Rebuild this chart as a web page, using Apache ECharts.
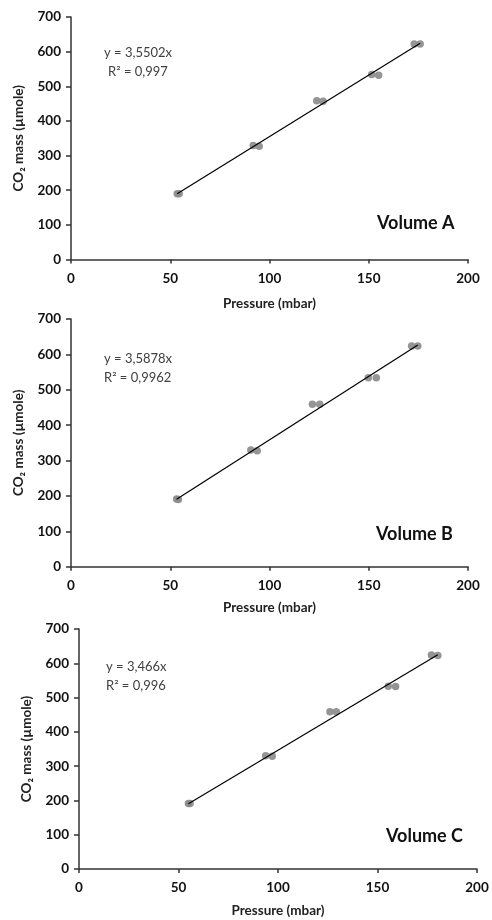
<!DOCTYPE html>
<html>
<head>
<meta charset="utf-8">
<script src="https://cdn.jsdelivr.net/npm/echarts@6/dist/echarts.min.js"></script>
<style>
html,body{margin:0;padding:0;background:#fff;}
#chart{width:492px;height:920px;}
</style>
</head>
<body>
<div id="chart"></div>
<script>
// Panel A (Volume A)
const pressureA = [53.5, 54.5, 91.8, 94.8, 123.8, 127.0, 151.5, 155.0, 172.9, 175.9];
const massA     = [190, 190, 329, 327, 458, 457, 534, 532, 622, 622];
const slopeA = 3.5502;
const eqA = ['y = 3,5502x', 'R² = 0,997'];

// Panel B (Volume B)
const pressureB = [53.2, 54.1, 90.6, 93.8, 121.6, 125.3, 149.8, 153.8, 171.6, 174.7];
const massB     = [191, 190, 330, 328, 459, 459, 534, 534, 624, 624];
const slopeB = 3.5878;
const eqB = ['y = 3,5878x', 'R² = 0,9962'];

// Panel C (Volume C)
const pressureC = [55.0, 55.8, 93.8, 97.1, 126.1, 129.3, 155.4, 159.1, 177.1, 180.3];
const massC     = [191, 191, 330, 329, 459, 459, 533, 532, 624, 623];
const slopeC = 3.466;
const eqC = ['y = 3,466x', 'R² = 0,996'];

const panelLabels = ['Volume A', 'Volume B', 'Volume C'];
const xTicks = [0, 50, 100, 150, 200];
const yTicks = [0, 100, 200, 300, 400, 500, 600, 700];
const xName = 'Pressure (mbar)';
const yName = 'CO₂ mass (µmole)';

const FONT = 'Lato, "Open Sans", sans-serif';
const AXIS_COLOR = '#333';
const DOT_COLOR = '#8a8a8a';

const panels = [
  {p: pressureA, m: massA, s: slopeA, eq: eqA, grid: {left: 71, right: 24, top: 17, height: 242.5}, xGap: 37, yGap: 45, eqPos: [138, 53], eqAlign: 'center', lbl: [377, 223]},
  {p: pressureB, m: massB, s: slopeB, eq: eqB, grid: {left: 71, right: 24, top: 319, height: 247.7}, xGap: 34, yGap: 45, eqPos: [104, 359], eqAlign: 'left', lbl: [376, 534]},
  {p: pressureC, m: massC, s: slopeC, eq: eqC, grid: {left: 79, right: 15, top: 629, height: 240}, xGap: 34.5, yGap: 45, eqPos: [106, 667], eqAlign: 'left', lbl: [386, 836]}
];

const grids = [], xAxes = [], yAxes = [], series = [], graphics = [];
panels.forEach((pn, i) => {
  grids.push(pn.grid);
  xAxes.push({
    type: 'value', gridIndex: i, min: xTicks[0], max: xTicks[xTicks.length - 1], interval: xTicks[1] - xTicks[0],
    name: xName, nameLocation: 'middle', nameGap: pn.xGap,
    nameTextStyle: {fontFamily: FONT, fontWeight: 'bold', fontSize: 13.5, color: '#222'},
    axisLine: {show: true, onZero: false, lineStyle: {color: AXIS_COLOR, width: 1.5}},
    axisTick: {show: true, length: 4, lineStyle: {color: AXIS_COLOR, width: 1.5}},
    axisLabel: {fontFamily: FONT, fontWeight: 'bold', fontSize: 13.5, color: '#111', margin: 12},
    splitLine: {show: false}
  });
  yAxes.push({
    type: 'value', gridIndex: i, min: yTicks[0], max: yTicks[yTicks.length - 1], interval: yTicks[1] - yTicks[0],
    name: yName, nameLocation: 'middle', nameGap: pn.yGap, nameRotate: 90,
    nameTextStyle: {fontFamily: FONT, fontWeight: 'bold', fontSize: 13.5, color: '#222'},
    axisLine: {show: true, onZero: false, lineStyle: {color: AXIS_COLOR, width: 1.5}},
    axisTick: {show: true, length: 5, lineStyle: {color: AXIS_COLOR, width: 1.5}},
    axisLabel: {fontFamily: FONT, fontWeight: 'bold', fontSize: 13.5, color: '#111', margin: 10},
    splitLine: {show: false}
  });
  series.push({
    type: 'scatter', xAxisIndex: i, yAxisIndex: i,
    data: pn.p.map((x, k) => [x, pn.m[k]]),
    symbol: 'circle', symbolSize: 7.5,
    itemStyle: {color: DOT_COLOR, opacity: 0.9},
    z: 2, silent: true
  });
  const xmin = Math.min(...pn.p), xmax = Math.max(...pn.p);
  series.push({
    type: 'line', xAxisIndex: i, yAxisIndex: i,
    data: [[xmin, pn.s * xmin], [xmax, pn.s * xmax]],
    symbol: 'none', lineStyle: {color: '#000', width: 1.2},
    z: 3, silent: true
  });
  pn.eq.forEach((t, k) => {
    graphics.push({
      type: 'text',
      x: pn.eqPos[0], y: pn.eqPos[1] + k * 19,
      style: {text: t, font: '13px ' + FONT, fill: '#404040', textAlign: pn.eqAlign, textVerticalAlign: 'middle'},
      silent: true
    });
  });
  graphics.push({
    type: 'text', x: pn.lbl[0], y: pn.lbl[1],
    style: {text: panelLabels[i], font: 'bold 18px ' + FONT, fill: '#111', textAlign: 'left', textVerticalAlign: 'middle'},
    silent: true
  });
});

const chart = echarts.init(document.getElementById('chart'), null, {renderer: 'canvas'});
chart.setOption({
  animation: false,
  backgroundColor: '#fff',
  grid: grids,
  xAxis: xAxes,
  yAxis: yAxes,
  series: series,
  graphic: graphics
});
</script>
</body>
</html>
